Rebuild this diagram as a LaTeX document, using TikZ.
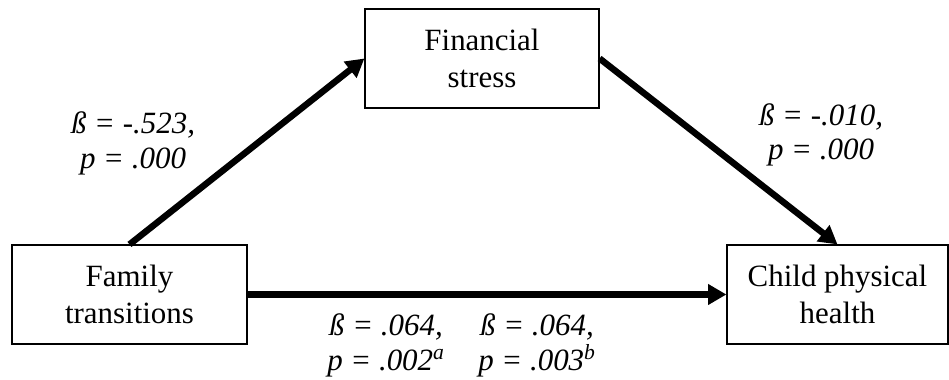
\documentclass[tikz,border=0pt]{standalone}
\usepackage{fontspec}
\setmainfont{Liberation Serif}
\usetikzlibrary{arrows.meta}

\begin{document}
\begin{tikzpicture}[
        var/.style={draw, line width=0.8pt, minimum height=2.475cm, inner sep=0pt, align=center, font=\fontsize{22pt}{26.3pt}\selectfont},
        effect/.style={-{Triangle[length=13pt, width=14pt]}, line width=4.6pt},
        coef/.style={align=center, inner sep=0pt, font=\fontsize{22pt}{24.5pt}\selectfont\itshape}
    ]
        \useasboundingbox (0, 0) rectangle (23.725, 9.5);

        % Variables
        \node[var, minimum width=5.875cm] (fam) at (3.2375, 2.1375) {Family\\transitions};
        \node[var, minimum width=5.85cm] (fin) at (12.05, 8.0375) {Financial\\stress};
        \node[var, minimum width=5.525cm] (child) at (20.9375, 2.1375) {Child physical\\health};

        % Paths
        \draw[effect] (fam.north) -- (fin.west);
        \draw[effect] (fin.east) -- (child.north);
        \draw[effect] (fam.east) -- (child.west);

        % Coefficients
        \node[coef] (cfa) at (3.325, 5.91) {ß = -.523,\\p = .000};
        \node[coef] (cfb) at (20.525, 6.13) {ß = -.010,\\p = .000};
        \node[coef] (cfc) at (9.65, 0.86) {ß = .064,\\p = .002\textsuperscript{a}};
        \node[coef] (cfd) at (13.425, 0.86) {ß = .064,\\p = .003\textsuperscript{b}};
    \end{tikzpicture}
\end{document}
